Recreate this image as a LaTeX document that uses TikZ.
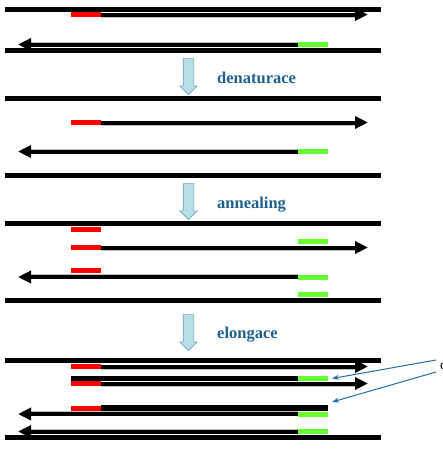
\documentclass[tikz,border=0pt]{standalone}
\usepackage{fontspec}
\setmainfont{Liberation Serif}
\usetikzlibrary{arrows.meta, positioning, shapes.arrows}
\definecolor{fwdred}{RGB}{255,0,0}
\definecolor{revgreen}{RGB}{102,255,51}
\definecolor{steptext}{RGB}{31,96,143}
\definecolor{pale}{RGB}{184,222,232}
\definecolor{paleline}{RGB}{118,163,183}
\definecolor{callout}{RGB}{36,110,166}

\begin{document}
\begin{tikzpicture}[x=1pt, y=-1pt,
    every node/.style={inner sep=0pt},
    bar/.style={line width=5pt},
    strand/.style={line width=4pt, -{Triangle[length=13pt, width=12pt]}},
    shade/.style={draw=black!25, line width=1pt},
    fwd/.style={draw=fwdred, line width=5pt},
    rev/.style={draw=revgreen, line width=5pt},
    ext/.style={line width=5.5pt},
    down/.style={single arrow, shape border rotate=270, draw=paleline, fill=pale, line width=0.6pt,
      inner sep=5pt, minimum width=17pt, minimum height=36pt, single arrow head extend=3.5pt},
    stepname/.style={text=steptext, font=\bfseries\fontsize{16.5}{18}\selectfont, anchor=base west},
    note/.style={-{Stealth[length=7pt, width=5pt]}, draw=callout, line width=1pt}
]
\useasboundingbox (0,0) rectangle (442,458);

% double strand
\draw[bar] (5,9) -- (381,9);
\draw[shade] (101,17) -- (355,17);
\draw[strand] (101,14.5) -- (368,14.5);
\draw[fwd] (71,14.5) -- (101,14.5);
\draw[shade] (298,42) -- (31,42);
\draw[strand] (298,44.5) -- (18,44.5);
\draw[rev] (298,44.5) -- (328,44.5);
\draw[bar] (5,50.5) -- (381,50.5);

\node[down] (a1) at (188.5,74) {};
\node[stepname] (s1) at (217,83) {denaturace};

% separated strands
\draw[bar] (5,98.5) -- (381,98.5);
\draw[shade] (101,125) -- (355,125);
\draw[strand] (101,122.5) -- (368,122.5);
\draw[fwd] (71,122.5) -- (101,122.5);
\draw[shade] (298,149) -- (31,149);
\draw[strand] (298,151.5) -- (18,151.5);
\draw[rev] (298,151.5) -- (328,151.5);
\draw[bar] (5,175.5) -- (381,175.5);

\node[down] (a2) at (188.5,199) {};
\node[stepname] (s2) at (217,208) {annealing};

% primers bound
\draw[bar] (5,223.5) -- (381,223.5);
\draw[fwd] (71,229.5) -- (101,229.5);
\draw[rev] (298,241.5) -- (328,241.5);
\draw[shade] (101,250) -- (355,250);
\draw[strand] (101,247.5) -- (368,247.5);
\draw[fwd] (71,247.5) -- (101,247.5);
\draw[fwd] (71,270.5) -- (101,270.5);
\draw[shade] (298,274.5) -- (31,274.5);
\draw[strand] (298,277) -- (18,277);
\draw[rev] (298,277) -- (328,277);
\draw[rev] (298,294.5) -- (328,294.5);
\draw[bar] (5,300.5) -- (381,300.5);

\node[down] (a3) at (188.5,330) {};
\node[stepname] (s3) at (217,338) {elongace};

% new strands
\draw[bar] (5,360.5) -- (381,360.5);
\draw[shade] (101,369) -- (355,369);
\draw[strand] (101,366.5) -- (368,366.5);
\draw[fwd] (71,366.5) -- (101,366.5);
\draw[ext] (71,378.5) -- (298,378.5);
\draw[rev] (298,378.5) -- (328,378.5);
\draw[shade] (101,386) -- (355,386);
\draw[strand] (101,383.5) -- (368,383.5);
\draw[fwd] (71,383.5) -- (101,383.5);
\draw[ext] (101,408) -- (328,408);
\draw[fwd] (71,408) -- (101,408);
\draw[shade] (298,411.5) -- (31,411.5);
\draw[strand] (298,414) -- (18,414);
\draw[rev] (298,414) -- (328,414);
\draw[shade] (298,429) -- (31,429);
\draw[strand] (298,431.5) -- (18,431.5);
\draw[rev] (298,431.5) -- (328,431.5);
\draw[bar] (5,437.5) -- (381,437.5);

% callout
\coordinate (n1) at (436,360);
\coordinate (n2) at (436,372);
\coordinate (t1) at (332,378.5);
\coordinate (t2) at (332,402);
\draw[note] (n1) -- (t1);
\draw[note] (n2) -- (t2);
\node[anchor=base west, font=\fontsize{14}{16}\selectfont] (cut) at (440,369.5) {c};
\end{tikzpicture}
\end{document}
